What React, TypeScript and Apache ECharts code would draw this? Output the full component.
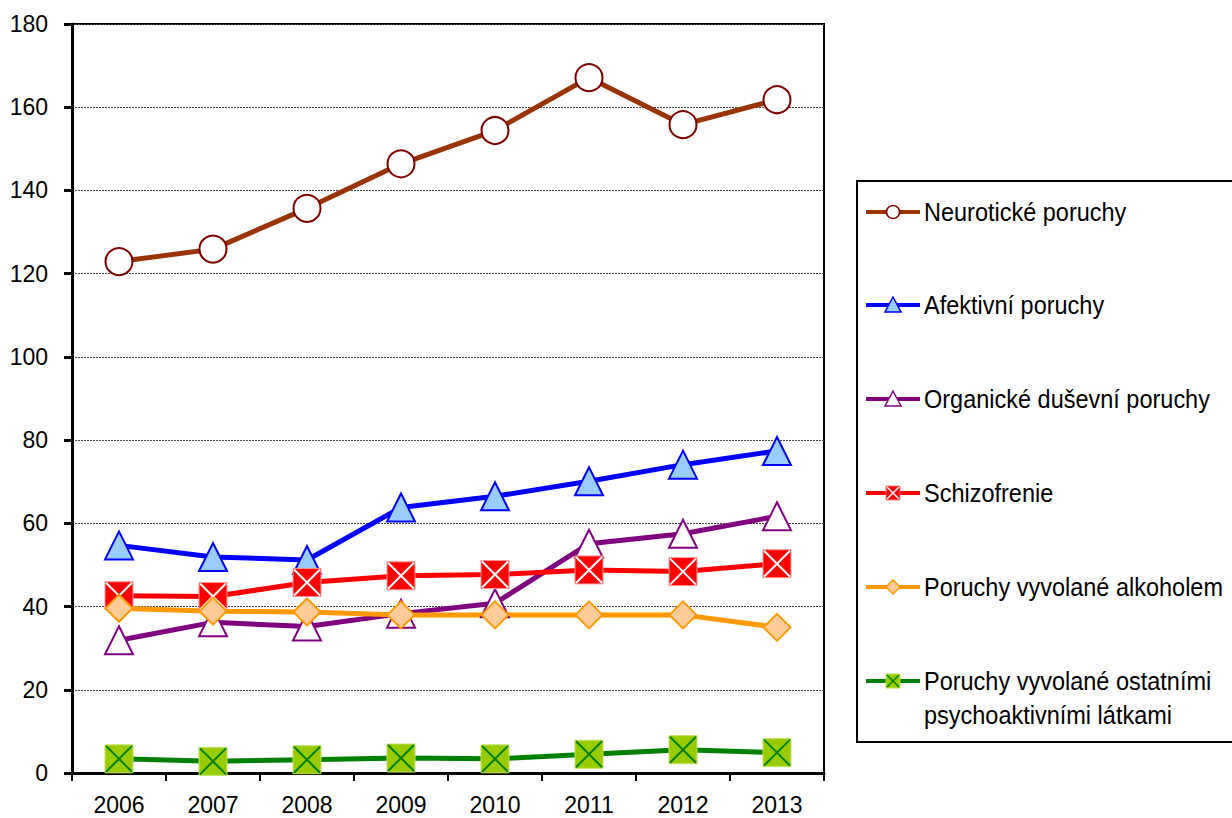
import React, { useEffect, useRef } from "react";
import * as echarts from "echarts";

const years = ["2006", "2007", "2008", "2009", "2010", "2011", "2012", "2013"];
const neuroticke = [122.9, 125.9, 135.7, 146.4, 154.4, 167.1, 155.8, 161.8];
const afektivni = [54.7, 51.9, 51.2, 63.8, 66.5, 70.1, 74.1, 77.4];
const organicke = [31.9, 36.2, 35.2, 38.3, 40.8, 55.1, 57.5, 61.7];
const schizofrenie = [42.6, 42.4, 45.8, 47.4, 47.7, 48.8, 48.4, 50.3];
const alkohol = [39.6, 38.9, 38.7, 38.0, 38.0, 38.0, 38.0, 35.0];
const ostatni = [3.4, 2.8, 3.2, 3.6, 3.4, 4.5, 5.6, 4.9];

const legendLines = [
  ["Neurotické poruchy"],
  ["Afektivní poruchy"],
  ["Organické duševní poruchy"],
  ["Schizofrenie"],
  ["Poruchy vyvolané alkoholem"],
  ["Poruchy vyvolané ostatními", "psychoaktivními látkami"],
];

const FONT = "'Liberation Sans', Arial, sans-serif";
const X_PATH = "path://M0,0L10,10M10,0L0,10";

export default function App() {
  const ref = useRef<HTMLDivElement>(null);
  useEffect(() => {
    if (!ref.current) return;
    const chart = echarts.init(ref.current, null, { renderer: "svg" });

    const lineSeries = (name: string, data: number[], lineColor: string, symbol: string, size: number, fill: string, border: string, bw: number) => ({
      name,
      type: "line",
      data,
      symbol,
      symbolSize: size,
      lineStyle: { color: lineColor, width: 5 },
      itemStyle: { color: fill, borderColor: border, borderWidth: bw },
      emphasis: { disabled: true },
      silent: true,
    });
    const xOverlay = (data: number[], color: string) => ({
      type: "line",
      data,
      symbol: X_PATH,
      symbolSize: 26,
      lineStyle: { width: 0, opacity: 0 },
      itemStyle: { color: "rgba(0,0,0,0)", borderColor: color, borderWidth: 2 },
      emphasis: { disabled: true },
      silent: true,
    });

    // legend graphics
    const LX0 = 866, LX1 = 920, LMX = 893, TX = 924;
    const ys = [212, 305, 399, 493, 587, 681];
    const g: any[] = [
      {
        type: "rect",
        shape: { x: 857, y: 181, width: 400, height: 561 },
        style: { fill: "#fff", stroke: "#000", lineWidth: 2 },
        z: 0,
      },
    ];
    const lineColors = ["#993300", "#0000FF", "#800080", "#FF0000", "#FF9900", "#008000"];
    ys.forEach((y, i) => {
      g.push({ type: "line", shape: { x1: LX0, y1: y, x2: LX1, y2: y }, style: { stroke: lineColors[i], lineWidth: 4 }, z: 1 });
      legendLines[i].forEach((t, j) => {
        g.push({
          type: "text",
          x: TX,
          y: y + j * 34,
          scaleY: 1.12,
          style: {
            text: t,
            font: `23.5px ${FONT}`,
            fill: "#000",
            verticalAlign: "middle",
          },
          z: 2,
        });
      });
    });
    // markers
    g.push({ type: "circle", shape: { cx: LMX, cy: ys[0], r: 6.5 }, style: { fill: "#fff", stroke: "#800000", lineWidth: 1.5 }, z: 3 });
    g.push({ type: "polygon", shape: { points: [[LMX, ys[1] - 8], [LMX + 8, ys[1] + 7], [LMX - 8, ys[1] + 7]] }, style: { fill: "#99CCFF", stroke: "#0000FF", lineWidth: 1.5 }, z: 3 });
    g.push({ type: "polygon", shape: { points: [[LMX, ys[2] - 8], [LMX + 8, ys[2] + 7], [LMX - 8, ys[2] + 7]] }, style: { fill: "#fff", stroke: "#800080", lineWidth: 1.5 }, z: 3 });
    g.push({ type: "rect", shape: { x: LMX - 7, y: ys[3] - 7, width: 14, height: 14 }, style: { fill: "#FF0000", stroke: "#FF8080", lineWidth: 1 }, z: 3 });
    g.push({ type: "line", shape: { x1: LMX - 6, y1: ys[3] - 6, x2: LMX + 6, y2: ys[3] + 6 }, style: { stroke: "#fff", lineWidth: 1.5 }, z: 4 });
    g.push({ type: "line", shape: { x1: LMX + 6, y1: ys[3] - 6, x2: LMX - 6, y2: ys[3] + 6 }, style: { stroke: "#fff", lineWidth: 1.5 }, z: 4 });
    g.push({ type: "polygon", shape: { points: [[LMX, ys[4] - 7], [LMX + 7, ys[4]], [LMX, ys[4] + 7], [LMX - 7, ys[4]]] }, style: { fill: "#FFCC99", stroke: "#FF9900", lineWidth: 1.5 }, z: 3 });
    g.push({ type: "rect", shape: { x: LMX - 7, y: ys[5] - 7, width: 14, height: 14 }, style: { fill: "#99CC00", stroke: "#B8E040", lineWidth: 1 }, z: 3 });
    g.push({ type: "line", shape: { x1: LMX - 6, y1: ys[5] - 6, x2: LMX + 6, y2: ys[5] + 6 }, style: { stroke: "#008000", lineWidth: 1.5 }, z: 4 });
    g.push({ type: "line", shape: { x1: LMX + 6, y1: ys[5] - 6, x2: LMX - 6, y2: ys[5] + 6 }, style: { stroke: "#008000", lineWidth: 1.5 }, z: 4 });

    chart.setOption({
      animation: false,
      backgroundColor: "#fff",
      grid: {
        left: 72,
        top: 24,
        right: 408,
        bottom: 45,
        show: true,
        borderColor: "#000",
        borderWidth: 2,
        backgroundColor: "transparent",
      },
      xAxis: {
        type: "category",
        data: years,
        boundaryGap: true,
        axisLine: { lineStyle: { color: "#000", width: 3 } },
        axisTick: { show: true, length: 8, lineStyle: { color: "#000", width: 2 }, interval: 0 },
        axisLabel: { color: "#000", fontSize: 23, fontFamily: FONT, margin: 20, interval: 0 },
        splitLine: { show: false },
      },
      yAxis: {
        type: "value",
        min: 0,
        max: 180,
        interval: 20,
        axisLine: { show: true, lineStyle: { color: "#000", width: 3 } },
        axisTick: { show: true, length: 8, lineStyle: { color: "#000", width: 3 } },
        axisLabel: { color: "#000", fontSize: 23, fontFamily: FONT, margin: 24 },
        splitLine: { show: true, lineStyle: { color: "#444", width: 1, type: [2, 1] } },
      },
      graphic: g,
      series: [
        lineSeries("Neurotické poruchy", neuroticke, "#993300", "circle", 27, "#fff", "#800000", 2),
        lineSeries("Afektivní poruchy", afektivni, "#0000FF", "triangle", 28, "#99CCFF", "#0000FF", 2),
        lineSeries("Organické duševní poruchy", organicke, "#800080", "triangle", 28, "#fff", "#800080", 2),
        lineSeries("Schizofrenie", schizofrenie, "#FF0000", "rect", 28, "#FF0000", "#FF9999", 1),
        xOverlay(schizofrenie, "#fff"),
        lineSeries("Poruchy vyvolané alkoholem", alkohol, "#FF9900", "diamond", 27, "#FFCC99", "#FF9900", 2),
        lineSeries("Poruchy vyvolané ostatními psychoaktivními látkami", ostatni, "#008000", "rect", 28, "#99CC00", "#C0E060", 1),
        xOverlay(ostatni, "#008000"),
      ],
    });
    return () => chart.dispose();
  }, []);
  return <div ref={ref} style={{ position: "fixed", left: 0, top: 0, width: 1232, height: 818 }} />;
}
